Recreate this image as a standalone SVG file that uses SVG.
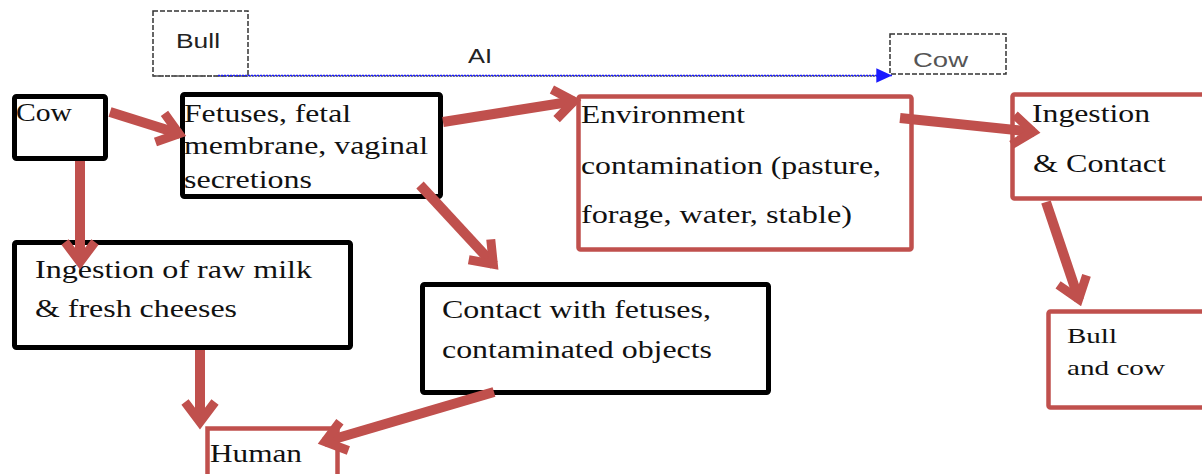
<svg xmlns="http://www.w3.org/2000/svg" width="1202" height="474" viewBox="0 0 1202 474">
<style>
.bg{fill:#ffffff}
.bk{fill:#ffffff;stroke:#000000;stroke-width:5}
.rd{fill:#ffffff;stroke:#C0504D;stroke-width:4.5}
.ds{fill:none;stroke:#333333;stroke-width:1.5;stroke-dasharray:5 2}
.t{font-family:"Liberation Serif","Times New Roman",serif;font-size:25px;fill:#111111}
.ts{font-family:"Liberation Serif","Times New Roman",serif;font-size:21px;fill:#111111}
.s{font-family:"Liberation Sans",Arial,sans-serif;font-size:20px;fill:#222222}
.ar{fill:none;stroke:#C0504D;stroke-width:10;marker-end:url(#ah)}
</style>
<defs>
<marker id="ah" markerUnits="userSpaceOnUse" markerWidth="60" markerHeight="60" viewBox="-40 -30 60 60" refX="0" refY="0" orient="auto" overflow="visible">
<path d="M-21,-15 L-1,0 L-21,15" fill="none" stroke="#C0504D" stroke-width="9" stroke-linejoin="miter"/>
</marker>
<marker id="bh" markerUnits="userSpaceOnUse" markerWidth="20" markerHeight="20" viewBox="-12 -6 14 12" refX="0" refY="0" orient="auto">
<path d="M-11,-5 L0,0 L-11,5 Z" fill="#1a1aff"/>
</marker>
</defs>
<rect class="bg" x="0" y="0" width="1202" height="474"/>

<g id="bull-top">
<rect class="ds" x="153" y="11" width="95" height="65"/>
<text class="s" x="176" y="48" textLength="44" lengthAdjust="spacingAndGlyphs">Bull</text>
</g>
<g id="cow-top">
<rect class="ds" x="890" y="34" width="116" height="40"/>
<text class="s" x="913" y="67" fill="#555555" style="fill:#555555" textLength="55" lengthAdjust="spacingAndGlyphs">Cow</text>
</g>
<g id="ai-label">
<text class="s" x="468" y="63" textLength="24" lengthAdjust="spacingAndGlyphs">AI</text>
</g>

<g id="cow">
<rect class="bk" x="14.5" y="96.5" width="91" height="62" rx="2"/>
<text class="t" x="16" y="121" textLength="56" lengthAdjust="spacingAndGlyphs">Cow</text>
</g>
<g id="fetuses">
<rect class="bk" x="182.5" y="94.5" width="258" height="102" rx="2"/>
<text class="t" x="184" y="122" textLength="167" lengthAdjust="spacingAndGlyphs">Fetuses, fetal</text>
<text class="t" x="184" y="154" textLength="244" lengthAdjust="spacingAndGlyphs">membrane, vaginal</text>
<text class="t" x="184" y="188" textLength="128" lengthAdjust="spacingAndGlyphs">secretions</text>
</g>
<g id="environment">
<rect class="rd" x="578.5" y="96.5" width="333" height="153" rx="2"/>
<text class="t" x="581" y="123" textLength="164" lengthAdjust="spacingAndGlyphs">Environment</text>
<text class="t" x="581" y="174" textLength="300" lengthAdjust="spacingAndGlyphs">contamination (pasture,</text>
<text class="t" x="581" y="223" textLength="271" lengthAdjust="spacingAndGlyphs">forage, water, stable)</text>
</g>
<g id="ingestion-contact">
<rect class="rd" x="1012.5" y="94.5" width="200" height="104" rx="2"/>
<text class="t" x="1032" y="122" textLength="118" lengthAdjust="spacingAndGlyphs">Ingestion</text>
<text class="t" x="1033" y="172" textLength="133" lengthAdjust="spacingAndGlyphs">&amp; Contact</text>
</g>
<g id="raw-milk">
<rect class="bk" x="14.5" y="242.5" width="336" height="105" rx="2"/>
<text class="t" x="35" y="278" textLength="277" lengthAdjust="spacingAndGlyphs">Ingestion of raw milk</text>
<text class="t" x="35" y="317" textLength="202" lengthAdjust="spacingAndGlyphs">&amp; fresh cheeses</text>
</g>
<g id="contact">
<rect class="bk" x="422.5" y="284.5" width="346" height="108" rx="2"/>
<text class="t" x="442" y="318" textLength="269" lengthAdjust="spacingAndGlyphs">Contact with fetuses,</text>
<text class="t" x="442" y="358" textLength="270" lengthAdjust="spacingAndGlyphs">contaminated objects</text>
</g>
<g id="human">
<rect class="rd" x="207.5" y="428.5" width="130" height="60"/>
<text class="t" x="210" y="462" textLength="92" lengthAdjust="spacingAndGlyphs">Human</text>
</g>
<g id="bull-and-cow">
<rect class="rd" x="1048.5" y="311.5" width="170" height="96" rx="2"/>
<text class="ts" x="1067" y="343" textLength="50" lengthAdjust="spacingAndGlyphs">Bull</text>
<text class="ts" x="1067" y="375" textLength="98" lengthAdjust="spacingAndGlyphs">and cow</text>
</g>

<g id="connectors">
<line x1="153" y1="76" x2="889" y2="76" stroke="#555555" stroke-width="1.5" stroke-dasharray="2 1"/>
<line x1="218" y1="75.5" x2="892" y2="75.5" stroke="#1a1aff" stroke-width="1.5" stroke-dasharray="2 1" marker-end="url(#bh)"/>
<line class="ar" x1="110" y1="112" x2="180" y2="134"/>
<line class="ar" x1="80" y1="161" x2="80" y2="263"/>
<line class="ar" x1="443" y1="122" x2="575" y2="101"/>
<line class="ar" x1="420" y1="185" x2="494" y2="265"/>
<line class="ar" x1="900" y1="118" x2="1034" y2="132"/>
<line class="ar" x1="1046" y1="202" x2="1079" y2="300"/>
<line class="ar" x1="200" y1="350" x2="200" y2="423"/>
<line class="ar" x1="494" y1="392" x2="324" y2="442"/>
</g>
</svg>
